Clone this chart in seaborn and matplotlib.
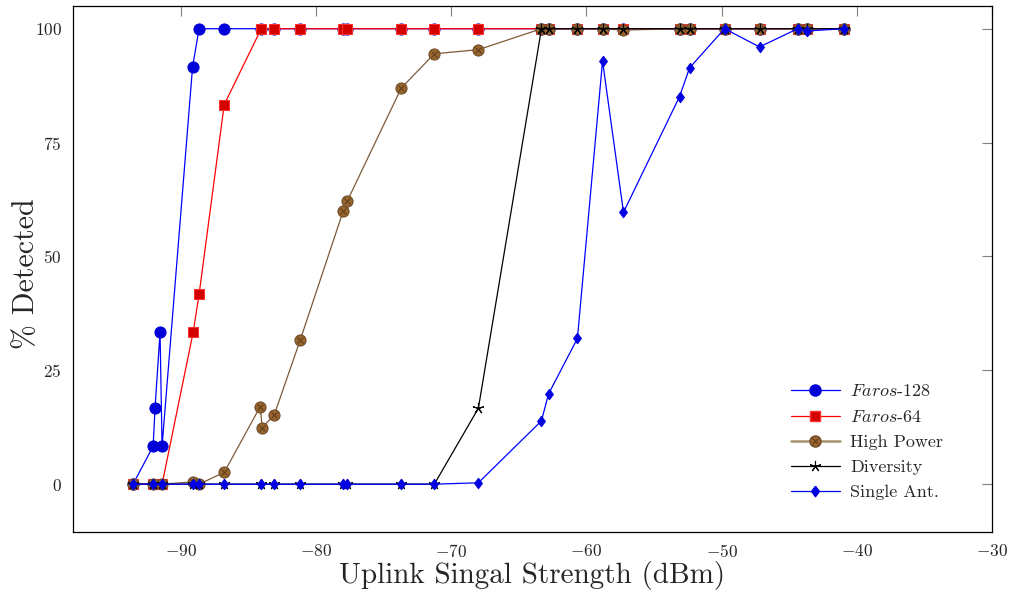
import numpy as np
import pandas as pd
import matplotlib
matplotlib.use('Agg')
import matplotlib.pyplot as plt
import seaborn as sns
from matplotlib.lines import Line2D
from matplotlib.legend_handler import HandlerTuple

# --- data ---
# uplink signal strengths (dBm) used by most of the runs
x_common = [-93.56, -92.07, -91.41, -89.11, -88.67, -86.81, -84.07, -83.11, -81.19,
            -78.0, -77.7, -73.7, -71.26, -68.0, -63.33, -62.81, -60.67, -58.81,
            -57.26, -53.11, -52.37, -49.78, -47.19, -44.37, -43.7, -40.96]

faros128_x = [-93.56, -92.07, -91.93, -91.56, -91.41, -89.15, -88.67, -86.81] + x_common[6:]
faros128_y = [0, 8.33, 16.67, 33.33, 8.33, 91.67, 100, 100] + [100] * 20

faros64_x = x_common
faros64_y = [0, 0, 0, 33.33, 41.67, 83.33] + [100] * 20

highpow_x = [-93.56, -92.07, -91.41, -89.15, -88.67, -86.81, -84.15, -84.0, -83.11,
             -81.19, -78.0, -77.7, -73.7, -71.26, -68.0] + x_common[14:]
highpow_y = [0, 0, 0, 0.5, 0, 2.6, 17.0, 12.4, 15.2, 31.6, 60.0, 62.2, 87.0, 94.5,
             95.4, 100, 100, 100, 100, 99.7, 100, 100, 100, 100, 100, 100, 100]

diversity_x = x_common
diversity_y = [0] * 13 + [16.67] + [100] * 12

single_x = x_common
single_y = [0] * 13 + [0.3, 13.9, 19.8, 32.0, 92.9, 59.7, 85.1, 91.4, 100, 96.0,
                       100, 99.5, 100]

labels = [r'$\mathit{Faros}$-128', r'$\mathit{Faros}$-64', 'High Power', 'Diversity', 'Single Ant.']

# --- style ---
sns.set_theme(style='white')
plt.rcParams['font.family'] = ['cmr10', 'DejaVu Serif']
plt.rcParams['mathtext.fontset'] = 'cm'
plt.rcParams['axes.formatter.use_mathtext'] = True
plt.rcParams['axes.unicode_minus'] = True

fig, ax = plt.subplots(figsize=(10.1, 5.94), dpi=100)
fig.subplots_adjust(left=0.0723, right=0.982, top=0.99, bottom=0.1044)

brown_line = '#7d5a3a'
brown_fill = '#98652f'
diamond = [(0, 1), (0.75, 0), (0, -1), (-0.75, 0), (0, 1)]

sty128 = dict(color='blue', lw=0.9, marker='o', ms=8, mfc='#0000d8', mec='#0000d8')
sty64 = dict(color='red', lw=0.9, marker='s', ms=7.8, mfc='#d40000', mec='#ff3030')
styhp = dict(color=brown_line, lw=0.9, marker='o', ms=8, mfc=brown_fill, mec='#6e4a28')
stydiv = dict(color='black', lw=0.9, marker=(5, 2, 0), ms=8, mec='black', mew=0.8)
stysa = dict(color='blue', lw=0.9, marker=diamond, ms=7.5, mfc='#0000e0', mec='#0000e0')

sns.lineplot(x=faros128_x, y=faros128_y, sort=False, estimator=None, ax=ax, **sty128)
sns.lineplot(x=faros64_x, y=faros64_y, sort=False, estimator=None, ax=ax, **sty64)
sns.lineplot(x=highpow_x, y=highpow_y, sort=False, estimator=None, ax=ax, **styhp)
ax.plot(highpow_x, highpow_y, ls='none', marker='x', ms=4.8, mec='#5a3a1a', mew=0.7)
sns.lineplot(x=diversity_x, y=diversity_y, sort=False, estimator=None, ax=ax, **stydiv)
sns.lineplot(x=single_x, y=single_y, sort=False, estimator=None, ax=ax, **stysa)

ax.set_xlim(-98, -30)
ax.set_ylim(-10.5, 105)
ax.set_xticks([-90, -80, -70, -60, -50, -40, -30])
ax.set_yticks([0, 25, 50, 75, 100])
ax.tick_params(direction='in', length=7.5, width=0.8, color='#808080',
               labelsize=12.5, top=True, right=True, pad=8)
for s in ax.spines.values():
    s.set_color('black')
    s.set_linewidth(0.9)

ax.set_xlabel('Uplink Singal Strength (dBm)', fontsize=21, labelpad=1)
ax.set_ylabel('% Detected', fontsize=21.5)
ax.yaxis.set_label_coords(-0.036, 0.49)

# legend
hhp = (Line2D([], [], **{**styhp, 'color': '#a8906f', 'lw': 1.8}),
       Line2D([], [], ls='none', marker='x', ms=4.8, mec='#5a3a1a', mew=0.7))
handles = [Line2D([], [], **sty128), Line2D([], [], **sty64), hhp,
           Line2D([], [], **stydiv), Line2D([], [], **stysa)]
ax.legend(handles, labels,
          handler_map={tuple: HandlerTuple(ndivide=1)},
          loc='lower right', bbox_to_anchor=(0.965, 0.03), frameon=False,
          fontsize=13, handlelength=2.7, handletextpad=0.6, labelspacing=0.52, numpoints=1)

fig.savefig('out.png', dpi=100)
